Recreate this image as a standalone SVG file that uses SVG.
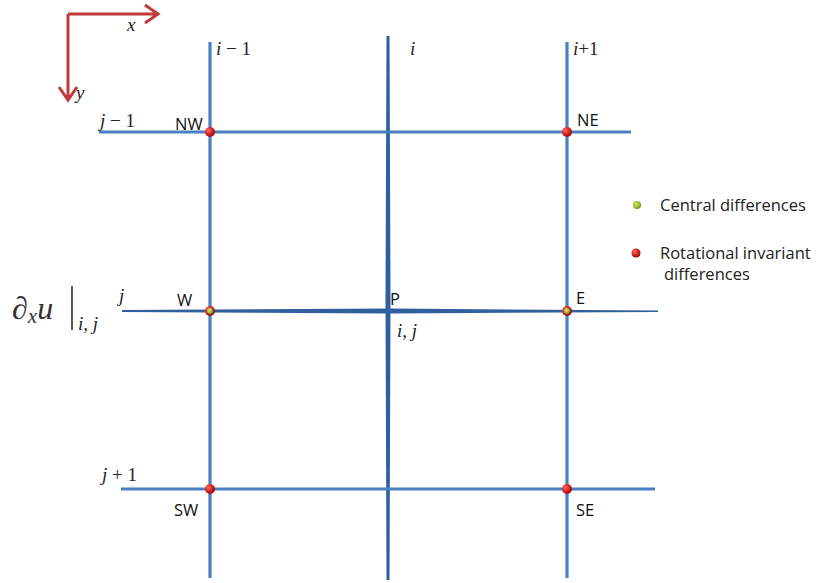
<svg xmlns="http://www.w3.org/2000/svg" width="823" height="583" viewBox="0 0 823 583">
<style>
.g{stroke:#4a7fc1;stroke-width:3.2;fill:none}
.gm{fill:#2f5f9f}
.m{font-family:"Liberation Serif",serif;font-style:italic;font-size:19px;fill:#222}
.s{font-family:"Open Sans","Liberation Sans",sans-serif;font-size:16.5px;fill:#111}
.l{font-family:"Open Sans","Liberation Sans",sans-serif;font-size:16.5px;fill:#222}
.ax{stroke:#c0393c;stroke-width:3;fill:none}
</style>
<defs>
<radialGradient id="red" cx="0.35" cy="0.35" r="0.7">
<stop offset="0" stop-color="#ff6a5c"/><stop offset="0.6" stop-color="#d41e1e"/><stop offset="1" stop-color="#8a0d0d"/>
</radialGradient>
<radialGradient id="grn" cx="0.4" cy="0.4" r="0.6">
<stop offset="0" stop-color="#d8e86a"/><stop offset="0.7" stop-color="#9ab82e"/><stop offset="1" stop-color="#6e8a1e"/>
</radialGradient>
</defs>
<g id="axes">
<path class="ax" d="M68 14 H158 M145 5 L158 14 L145 23"/>
<path class="ax" d="M68 14 V100 M59 87 L68 100 L77 87"/>
<text class="m" x="127" y="31">x</text>
<text class="m" x="76" y="99">y</text>
</g>
<g id="connectors">
<line class="g" x1="210" y1="42" x2="210" y2="578"/>
<line class="g" x1="567" y1="42" x2="567" y2="578"/>
<polygon class="gm" points="386.5,36 389.5,36 390.5,300 389.5,580 386.5,580 385.5,300"/>
<line class="g" x1="99" y1="132" x2="631" y2="132"/>
<polygon class="gm" points="122,310 390,308.6 658,310.5 658,312 390,313.4 122,312"/>
<line class="g" x1="121" y1="489" x2="655" y2="489"/>
</g>
<g id="labels">
<text class="m" x="216" y="55">i <tspan font-style="normal">− 1</tspan></text>
<text class="m" x="410" y="55">i</text>
<text class="m" x="573" y="55">i<tspan font-style="normal">+1</tspan></text>
<text class="m" x="100" y="127">j <tspan font-style="normal">− 1</tspan></text>
<text class="m" x="119" y="302">j</text>
<text class="m" x="102" y="481">j <tspan font-style="normal">+ 1</tspan></text>
<text class="m" x="397" y="337">i, j</text>
</g>
<g id="formula">
<text font-family="Liberation Serif,serif" font-size="32" fill="#333" x="12" y="319">∂<tspan font-style="italic" font-size="21" dy="4">x</tspan><tspan font-style="italic" dy="-4">u</tspan></text>
<line x1="72" y1="286" x2="72" y2="330" stroke="#333" stroke-width="1.6"/>
<text class="m" x="78" y="330" font-size="21">i, j</text>
</g>
<g id="NW"><circle cx="210" cy="132" r="5" fill="url(#red)"/><text class="s" x="175" y="130">NW</text></g>
<g id="NE"><circle cx="567" cy="132" r="5" fill="url(#red)"/><text class="s" x="577" y="126">NE</text></g>
<g id="W"><circle cx="210" cy="311" r="5" fill="url(#red)"/><circle cx="210" cy="311" r="3" fill="url(#grn)"/><text class="s" x="177" y="306">W</text></g>
<g id="P"><text class="s" x="390" y="305">P</text></g>
<g id="E"><circle cx="567" cy="311" r="5" fill="url(#red)"/><circle cx="567" cy="311" r="3" fill="url(#grn)"/><text class="s" x="576" y="304">E</text></g>
<g id="SW"><circle cx="210" cy="489" r="5" fill="url(#red)"/><text class="s" x="174" y="516">SW</text></g>
<g id="SE"><circle cx="567" cy="489" r="5" fill="url(#red)"/><text class="s" x="576" y="516">SE</text></g>
<g id="legend">
<circle cx="637" cy="205" r="4" fill="url(#grn)"/>
<text class="l" x="660" y="211">Central differences</text>
<circle cx="636" cy="253" r="4.5" fill="url(#red)"/>
<text class="l" x="660" y="259">Rotational invariant</text>
<text class="l" x="664" y="280">differences</text>
</g>
</svg>
